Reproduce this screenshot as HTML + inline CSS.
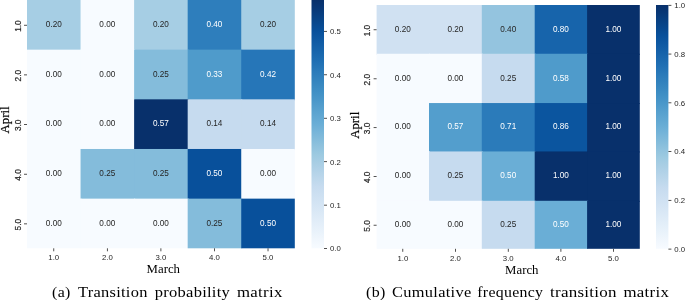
<!DOCTYPE html>
<html><head><meta charset="utf-8"><title>Transition matrices</title>
<style>
html,body{margin:0;padding:0;background:#fff;}
body{width:685px;height:300px;overflow:hidden;position:relative;}
.s{font-family:"Liberation Sans",sans-serif;}
.f{font-family:"Liberation Serif",serif;}
</style></head><body>
<svg width="685" height="300" viewBox="0 0 685 300" style="position:absolute;left:0;top:0;will-change:transform">
<defs><linearGradient id="g" x1="0" y1="0" x2="0" y2="1"><stop offset="0.0000" stop-color="#08306b"/><stop offset="0.0312" stop-color="#083776"/><stop offset="0.0625" stop-color="#084082"/><stop offset="0.0938" stop-color="#08488e"/><stop offset="0.1250" stop-color="#08509b"/><stop offset="0.1562" stop-color="#0e58a2"/><stop offset="0.1875" stop-color="#1460a8"/><stop offset="0.2188" stop-color="#1a68ae"/><stop offset="0.2500" stop-color="#2070b4"/><stop offset="0.2812" stop-color="#2979b9"/><stop offset="0.3125" stop-color="#3181bd"/><stop offset="0.3438" stop-color="#3989c1"/><stop offset="0.3750" stop-color="#4191c6"/><stop offset="0.4062" stop-color="#4b98ca"/><stop offset="0.4375" stop-color="#56a0ce"/><stop offset="0.4688" stop-color="#60a7d2"/><stop offset="0.5000" stop-color="#6aaed6"/><stop offset="0.5312" stop-color="#77b5d9"/><stop offset="0.5625" stop-color="#84bcdb"/><stop offset="0.5938" stop-color="#91c3de"/><stop offset="0.6250" stop-color="#9dcae1"/><stop offset="0.6562" stop-color="#a8cee4"/><stop offset="0.6875" stop-color="#b2d2e8"/><stop offset="0.7188" stop-color="#bcd7eb"/><stop offset="0.7500" stop-color="#c6dbef"/><stop offset="0.7812" stop-color="#ccdff1"/><stop offset="0.8125" stop-color="#d2e3f3"/><stop offset="0.8438" stop-color="#d8e7f5"/><stop offset="0.8750" stop-color="#deebf7"/><stop offset="0.9062" stop-color="#e4eff9"/><stop offset="0.9375" stop-color="#eaf3fb"/><stop offset="0.9688" stop-color="#f1f7fd"/><stop offset="1.0000" stop-color="#f7fbff"/></linearGradient></defs>
<g shape-rendering="auto">
<rect x="27.00" y="0.00" width="54.56" height="50.66" fill="#a6cee4"/>
<rect x="80.56" y="0.00" width="54.56" height="50.66" fill="#f7fbff"/>
<rect x="134.12" y="0.00" width="54.56" height="50.66" fill="#a6cee4"/>
<rect x="187.68" y="0.00" width="54.56" height="50.66" fill="#2e7ebc"/>
<rect x="241.24" y="0.00" width="53.56" height="50.66" fill="#a6cee4"/>
<rect x="27.00" y="49.66" width="54.56" height="50.66" fill="#f7fbff"/>
<rect x="80.56" y="49.66" width="54.56" height="50.66" fill="#f7fbff"/>
<rect x="134.12" y="49.66" width="54.56" height="50.66" fill="#84bcdb"/>
<rect x="187.68" y="49.66" width="54.56" height="50.66" fill="#4f9bcb"/>
<rect x="241.24" y="49.66" width="53.56" height="50.66" fill="#2676b8"/>
<rect x="27.00" y="99.32" width="54.56" height="50.66" fill="#f7fbff"/>
<rect x="80.56" y="99.32" width="54.56" height="50.66" fill="#f7fbff"/>
<rect x="134.12" y="99.32" width="54.56" height="50.66" fill="#08306b"/>
<rect x="187.68" y="99.32" width="54.56" height="50.66" fill="#c6dbef"/>
<rect x="241.24" y="99.32" width="53.56" height="50.66" fill="#c6dbef"/>
<rect x="27.00" y="148.98" width="54.56" height="50.66" fill="#f7fbff"/>
<rect x="80.56" y="148.98" width="54.56" height="50.66" fill="#84bcdb"/>
<rect x="134.12" y="148.98" width="54.56" height="50.66" fill="#84bcdb"/>
<rect x="187.68" y="148.98" width="54.56" height="50.66" fill="#08509b"/>
<rect x="241.24" y="148.98" width="53.56" height="50.66" fill="#f7fbff"/>
<rect x="27.00" y="198.64" width="54.56" height="49.66" fill="#f7fbff"/>
<rect x="80.56" y="198.64" width="54.56" height="49.66" fill="#f7fbff"/>
<rect x="134.12" y="198.64" width="54.56" height="49.66" fill="#f7fbff"/>
<rect x="187.68" y="198.64" width="54.56" height="49.66" fill="#84bcdb"/>
<rect x="241.24" y="198.64" width="53.56" height="49.66" fill="#08509b"/>
</g>
<text x="53.78" y="27.04" font-size="8.20" fill="#262626" text-anchor="middle" class="s">0.20</text>
<text x="107.34" y="27.04" font-size="8.20" fill="#262626" text-anchor="middle" class="s">0.00</text>
<text x="160.90" y="27.04" font-size="8.20" fill="#262626" text-anchor="middle" class="s">0.20</text>
<text x="214.46" y="27.04" font-size="8.20" fill="#ffffff" text-anchor="middle" class="s">0.40</text>
<text x="268.02" y="27.04" font-size="8.20" fill="#262626" text-anchor="middle" class="s">0.20</text>
<text x="53.78" y="76.70" font-size="8.20" fill="#262626" text-anchor="middle" class="s">0.00</text>
<text x="107.34" y="76.70" font-size="8.20" fill="#262626" text-anchor="middle" class="s">0.00</text>
<text x="160.90" y="76.70" font-size="8.20" fill="#262626" text-anchor="middle" class="s">0.25</text>
<text x="214.46" y="76.70" font-size="8.20" fill="#ffffff" text-anchor="middle" class="s">0.33</text>
<text x="268.02" y="76.70" font-size="8.20" fill="#ffffff" text-anchor="middle" class="s">0.42</text>
<text x="53.78" y="126.36" font-size="8.20" fill="#262626" text-anchor="middle" class="s">0.00</text>
<text x="107.34" y="126.36" font-size="8.20" fill="#262626" text-anchor="middle" class="s">0.00</text>
<text x="160.90" y="126.36" font-size="8.20" fill="#ffffff" text-anchor="middle" class="s">0.57</text>
<text x="214.46" y="126.36" font-size="8.20" fill="#262626" text-anchor="middle" class="s">0.14</text>
<text x="268.02" y="126.36" font-size="8.20" fill="#262626" text-anchor="middle" class="s">0.14</text>
<text x="53.78" y="176.02" font-size="8.20" fill="#262626" text-anchor="middle" class="s">0.00</text>
<text x="107.34" y="176.02" font-size="8.20" fill="#262626" text-anchor="middle" class="s">0.25</text>
<text x="160.90" y="176.02" font-size="8.20" fill="#262626" text-anchor="middle" class="s">0.25</text>
<text x="214.46" y="176.02" font-size="8.20" fill="#ffffff" text-anchor="middle" class="s">0.50</text>
<text x="268.02" y="176.02" font-size="8.20" fill="#262626" text-anchor="middle" class="s">0.00</text>
<text x="53.78" y="225.68" font-size="8.20" fill="#262626" text-anchor="middle" class="s">0.00</text>
<text x="107.34" y="225.68" font-size="8.20" fill="#262626" text-anchor="middle" class="s">0.00</text>
<text x="160.90" y="225.68" font-size="8.20" fill="#262626" text-anchor="middle" class="s">0.00</text>
<text x="214.46" y="225.68" font-size="8.20" fill="#262626" text-anchor="middle" class="s">0.25</text>
<text x="268.02" y="225.68" font-size="8.20" fill="#ffffff" text-anchor="middle" class="s">0.50</text>
<rect x="53.38" y="248.30" width="0.8" height="3.0" fill="#262626"/>
<text x="53.78" y="260.10" font-size="7.80" fill="#262626" text-anchor="middle" class="s">1.0</text>
<rect x="106.94" y="248.30" width="0.8" height="3.0" fill="#262626"/>
<text x="107.34" y="260.10" font-size="7.80" fill="#262626" text-anchor="middle" class="s">2.0</text>
<rect x="160.50" y="248.30" width="0.8" height="3.0" fill="#262626"/>
<text x="160.90" y="260.10" font-size="7.80" fill="#262626" text-anchor="middle" class="s">3.0</text>
<rect x="214.06" y="248.30" width="0.8" height="3.0" fill="#262626"/>
<text x="214.46" y="260.10" font-size="7.80" fill="#262626" text-anchor="middle" class="s">4.0</text>
<rect x="267.62" y="248.30" width="0.8" height="3.0" fill="#262626"/>
<text x="268.02" y="260.10" font-size="7.80" fill="#262626" text-anchor="middle" class="s">5.0</text>
<rect x="24.00" y="24.83" width="3.0" height="0.8" fill="#262626"/>
<text transform="translate(20.70,26.03) rotate(-90)" font-size="8.30" fill="#262626" stroke="#262626" stroke-width="0.2" text-anchor="middle" class="s">1.0</text>
<rect x="24.00" y="74.49" width="3.0" height="0.8" fill="#262626"/>
<text transform="translate(20.70,75.69) rotate(-90)" font-size="8.30" fill="#262626" stroke="#262626" stroke-width="0.2" text-anchor="middle" class="s">2.0</text>
<rect x="24.00" y="124.15" width="3.0" height="0.8" fill="#262626"/>
<text transform="translate(20.70,125.35) rotate(-90)" font-size="8.30" fill="#262626" stroke="#262626" stroke-width="0.2" text-anchor="middle" class="s">3.0</text>
<rect x="24.00" y="173.81" width="3.0" height="0.8" fill="#262626"/>
<text transform="translate(20.70,175.01) rotate(-90)" font-size="8.30" fill="#262626" stroke="#262626" stroke-width="0.2" text-anchor="middle" class="s">4.0</text>
<rect x="24.00" y="223.47" width="3.0" height="0.8" fill="#262626"/>
<text transform="translate(20.70,224.67) rotate(-90)" font-size="8.30" fill="#262626" stroke="#262626" stroke-width="0.2" text-anchor="middle" class="s">5.0</text>
<text transform="translate(163.30,273.00) scale(1,1.05)" font-size="12.8" fill="#000" text-anchor="middle" class="f">March</text>
<text transform="translate(9.30,119.95) rotate(-90) scale(1,1.05)" font-size="12.8" fill="#000" stroke="#000" stroke-width="0.2" text-anchor="middle" class="f">April</text>
<rect x="311.50" y="0.00" width="12.50" height="248.30" fill="url(#g)"/>
<rect x="324.00" y="248.20" width="3.0" height="0.8" fill="#262626"/>
<text x="329.90" y="251.41" font-size="7.80" fill="#262626" class="s">0.0</text>
<rect x="324.00" y="204.75" width="3.0" height="0.8" fill="#262626"/>
<text x="329.90" y="207.96" font-size="7.80" fill="#262626" class="s">0.1</text>
<rect x="324.00" y="161.29" width="3.0" height="0.8" fill="#262626"/>
<text x="329.90" y="164.50" font-size="7.80" fill="#262626" class="s">0.2</text>
<rect x="324.00" y="117.84" width="3.0" height="0.8" fill="#262626"/>
<text x="329.90" y="121.05" font-size="7.80" fill="#262626" class="s">0.3</text>
<rect x="324.00" y="74.39" width="3.0" height="0.8" fill="#262626"/>
<text x="329.90" y="77.60" font-size="7.80" fill="#262626" class="s">0.4</text>
<rect x="324.00" y="30.94" width="3.0" height="0.8" fill="#262626"/>
<text x="329.90" y="34.15" font-size="7.80" fill="#262626" class="s">0.5</text>
<text transform="translate(52.10,297.0) scale(1.133,1)"  font-size="14" fill="#000" class="f" textLength="16.10" lengthAdjust="spacing">(a)</text>
<text transform="translate(78.00,297.0) scale(1.174,1)"  font-size="14" fill="#000" class="f" textLength="59.12" lengthAdjust="spacing">Transition</text>
<text transform="translate(154.70,297.0) scale(1.180,1)"  font-size="14" fill="#000" class="f" textLength="63.66" lengthAdjust="spacing">probability</text>
<text transform="translate(236.90,297.0) scale(1.199,1)"  font-size="14" fill="#000" class="f" textLength="37.87" lengthAdjust="spacing">matrix</text>
<g shape-rendering="auto">
<rect x="376.60" y="5.00" width="53.40" height="49.76" fill="#d0e1f2"/>
<rect x="429.00" y="5.00" width="53.80" height="49.76" fill="#d0e1f2"/>
<rect x="481.80" y="5.00" width="53.90" height="49.76" fill="#94c4df"/>
<rect x="534.70" y="5.00" width="53.40" height="49.76" fill="#1764ab"/>
<rect x="587.10" y="5.00" width="52.70" height="49.76" fill="#08306b"/>
<rect x="376.60" y="53.76" width="53.40" height="50.29" fill="#f7fbff"/>
<rect x="429.00" y="53.76" width="53.80" height="50.29" fill="#f7fbff"/>
<rect x="481.80" y="53.76" width="53.90" height="50.29" fill="#c6dbef"/>
<rect x="534.70" y="53.76" width="53.40" height="50.29" fill="#4f9bcb"/>
<rect x="587.10" y="53.76" width="52.70" height="50.29" fill="#08306b"/>
<rect x="376.60" y="103.05" width="53.40" height="49.40" fill="#f7fbff"/>
<rect x="429.00" y="103.05" width="53.80" height="49.40" fill="#539ecd"/>
<rect x="481.80" y="103.05" width="53.90" height="49.40" fill="#2b7bba"/>
<rect x="534.70" y="103.05" width="53.40" height="49.40" fill="#0b559f"/>
<rect x="587.10" y="103.05" width="52.70" height="49.40" fill="#08306b"/>
<rect x="376.60" y="151.45" width="53.40" height="50.35" fill="#f7fbff"/>
<rect x="429.00" y="151.45" width="53.80" height="50.35" fill="#c6dbef"/>
<rect x="481.80" y="151.45" width="53.90" height="50.35" fill="#6aaed6"/>
<rect x="534.70" y="151.45" width="53.40" height="50.35" fill="#08306b"/>
<rect x="587.10" y="151.45" width="52.70" height="50.35" fill="#08306b"/>
<rect x="376.60" y="200.80" width="53.40" height="48.00" fill="#f7fbff"/>
<rect x="429.00" y="200.80" width="53.80" height="48.00" fill="#f7fbff"/>
<rect x="481.80" y="200.80" width="53.90" height="48.00" fill="#c6dbef"/>
<rect x="534.70" y="200.80" width="53.40" height="48.00" fill="#6aaed6"/>
<rect x="587.10" y="200.80" width="52.70" height="48.00" fill="#08306b"/>
</g>
<text x="402.80" y="31.59" font-size="8.20" fill="#262626" text-anchor="middle" class="s">0.20</text>
<text x="455.40" y="31.59" font-size="8.20" fill="#262626" text-anchor="middle" class="s">0.20</text>
<text x="508.25" y="31.59" font-size="8.20" fill="#262626" text-anchor="middle" class="s">0.40</text>
<text x="560.90" y="31.59" font-size="8.20" fill="#ffffff" text-anchor="middle" class="s">0.80</text>
<text x="613.45" y="31.59" font-size="8.20" fill="#ffffff" text-anchor="middle" class="s">1.00</text>
<text x="402.80" y="80.62" font-size="8.20" fill="#262626" text-anchor="middle" class="s">0.00</text>
<text x="455.40" y="80.62" font-size="8.20" fill="#262626" text-anchor="middle" class="s">0.00</text>
<text x="508.25" y="80.62" font-size="8.20" fill="#262626" text-anchor="middle" class="s">0.25</text>
<text x="560.90" y="80.62" font-size="8.20" fill="#ffffff" text-anchor="middle" class="s">0.58</text>
<text x="613.45" y="80.62" font-size="8.20" fill="#ffffff" text-anchor="middle" class="s">1.00</text>
<text x="402.80" y="129.46" font-size="8.20" fill="#262626" text-anchor="middle" class="s">0.00</text>
<text x="455.40" y="129.46" font-size="8.20" fill="#ffffff" text-anchor="middle" class="s">0.57</text>
<text x="508.25" y="129.46" font-size="8.20" fill="#ffffff" text-anchor="middle" class="s">0.71</text>
<text x="560.90" y="129.46" font-size="8.20" fill="#ffffff" text-anchor="middle" class="s">0.86</text>
<text x="613.45" y="129.46" font-size="8.20" fill="#ffffff" text-anchor="middle" class="s">1.00</text>
<text x="402.80" y="178.34" font-size="8.20" fill="#262626" text-anchor="middle" class="s">0.00</text>
<text x="455.40" y="178.34" font-size="8.20" fill="#262626" text-anchor="middle" class="s">0.25</text>
<text x="508.25" y="178.34" font-size="8.20" fill="#ffffff" text-anchor="middle" class="s">0.50</text>
<text x="560.90" y="178.34" font-size="8.20" fill="#ffffff" text-anchor="middle" class="s">1.00</text>
<text x="613.45" y="178.34" font-size="8.20" fill="#ffffff" text-anchor="middle" class="s">1.00</text>
<text x="402.80" y="227.01" font-size="8.20" fill="#262626" text-anchor="middle" class="s">0.00</text>
<text x="455.40" y="227.01" font-size="8.20" fill="#262626" text-anchor="middle" class="s">0.00</text>
<text x="508.25" y="227.01" font-size="8.20" fill="#262626" text-anchor="middle" class="s">0.25</text>
<text x="560.90" y="227.01" font-size="8.20" fill="#ffffff" text-anchor="middle" class="s">0.50</text>
<text x="613.45" y="227.01" font-size="8.20" fill="#ffffff" text-anchor="middle" class="s">1.00</text>
<rect x="402.40" y="248.80" width="0.8" height="3.0" fill="#262626"/>
<text x="402.80" y="260.60" font-size="7.80" fill="#262626" text-anchor="middle" class="s">1.0</text>
<rect x="455.00" y="248.80" width="0.8" height="3.0" fill="#262626"/>
<text x="455.40" y="260.60" font-size="7.80" fill="#262626" text-anchor="middle" class="s">2.0</text>
<rect x="507.85" y="248.80" width="0.8" height="3.0" fill="#262626"/>
<text x="508.25" y="260.60" font-size="7.80" fill="#262626" text-anchor="middle" class="s">3.0</text>
<rect x="560.50" y="248.80" width="0.8" height="3.0" fill="#262626"/>
<text x="560.90" y="260.60" font-size="7.80" fill="#262626" text-anchor="middle" class="s">4.0</text>
<rect x="613.05" y="248.80" width="0.8" height="3.0" fill="#262626"/>
<text x="613.45" y="260.60" font-size="7.80" fill="#262626" text-anchor="middle" class="s">5.0</text>
<rect x="373.60" y="29.38" width="3.0" height="0.8" fill="#262626"/>
<text transform="translate(370.30,30.58) rotate(-90)" font-size="8.30" fill="#262626" stroke="#262626" stroke-width="0.2" text-anchor="middle" class="s">1.0</text>
<rect x="373.60" y="78.41" width="3.0" height="0.8" fill="#262626"/>
<text transform="translate(370.30,79.61) rotate(-90)" font-size="8.30" fill="#262626" stroke="#262626" stroke-width="0.2" text-anchor="middle" class="s">2.0</text>
<rect x="373.60" y="127.25" width="3.0" height="0.8" fill="#262626"/>
<text transform="translate(370.30,128.45) rotate(-90)" font-size="8.30" fill="#262626" stroke="#262626" stroke-width="0.2" text-anchor="middle" class="s">3.0</text>
<rect x="373.60" y="176.12" width="3.0" height="0.8" fill="#262626"/>
<text transform="translate(370.30,177.32) rotate(-90)" font-size="8.30" fill="#262626" stroke="#262626" stroke-width="0.2" text-anchor="middle" class="s">4.0</text>
<rect x="373.60" y="224.80" width="3.0" height="0.8" fill="#262626"/>
<text transform="translate(370.30,226.00) rotate(-90)" font-size="8.30" fill="#262626" stroke="#262626" stroke-width="0.2" text-anchor="middle" class="s">5.0</text>
<text transform="translate(521.80,273.80) scale(1,1.05)" font-size="12.8" fill="#000" text-anchor="middle" class="f">March</text>
<text transform="translate(358.80,125.30) rotate(-90) scale(1,1.05)" font-size="12.8" fill="#000" stroke="#000" stroke-width="0.2" text-anchor="middle" class="f">April</text>
<rect x="656.00" y="5.00" width="12.40" height="243.80" fill="url(#g)"/>
<rect x="668.40" y="248.70" width="3.0" height="0.8" fill="#262626"/>
<text x="674.30" y="251.91" font-size="7.80" fill="#262626" class="s">0.0</text>
<rect x="668.40" y="199.94" width="3.0" height="0.8" fill="#262626"/>
<text x="674.30" y="203.15" font-size="7.80" fill="#262626" class="s">0.2</text>
<rect x="668.40" y="151.18" width="3.0" height="0.8" fill="#262626"/>
<text x="674.30" y="154.39" font-size="7.80" fill="#262626" class="s">0.4</text>
<rect x="668.40" y="102.42" width="3.0" height="0.8" fill="#262626"/>
<text x="674.30" y="105.63" font-size="7.80" fill="#262626" class="s">0.6</text>
<rect x="668.40" y="53.66" width="3.0" height="0.8" fill="#262626"/>
<text x="674.30" y="56.87" font-size="7.80" fill="#262626" class="s">0.8</text>
<rect x="668.40" y="4.90" width="3.0" height="0.8" fill="#262626"/>
<text x="674.30" y="8.11" font-size="7.80" fill="#262626" class="s">1.0</text>
<text transform="translate(366.10,297.0) scale(1.141,1)"  font-size="14" fill="#000" class="f" textLength="16.92" lengthAdjust="spacing">(b)</text>
<text transform="translate(392.00,297.0) scale(1.171,1)"  font-size="14" fill="#000" class="f" textLength="67.69" lengthAdjust="spacing">Cumulative</text>
<text transform="translate(477.30,297.0) scale(1.131,1)"  font-size="14" fill="#000" class="f" textLength="58.00" lengthAdjust="spacing">frequency</text>
<text transform="translate(550.00,297.0) scale(1.215,1)"  font-size="14" fill="#000" class="f" textLength="54.80" lengthAdjust="spacing">transition</text>
<text transform="translate(623.40,297.0) scale(1.204,1)"  font-size="14" fill="#000" class="f" textLength="37.87" lengthAdjust="spacing">matrix</text>
</svg>
</body></html>
